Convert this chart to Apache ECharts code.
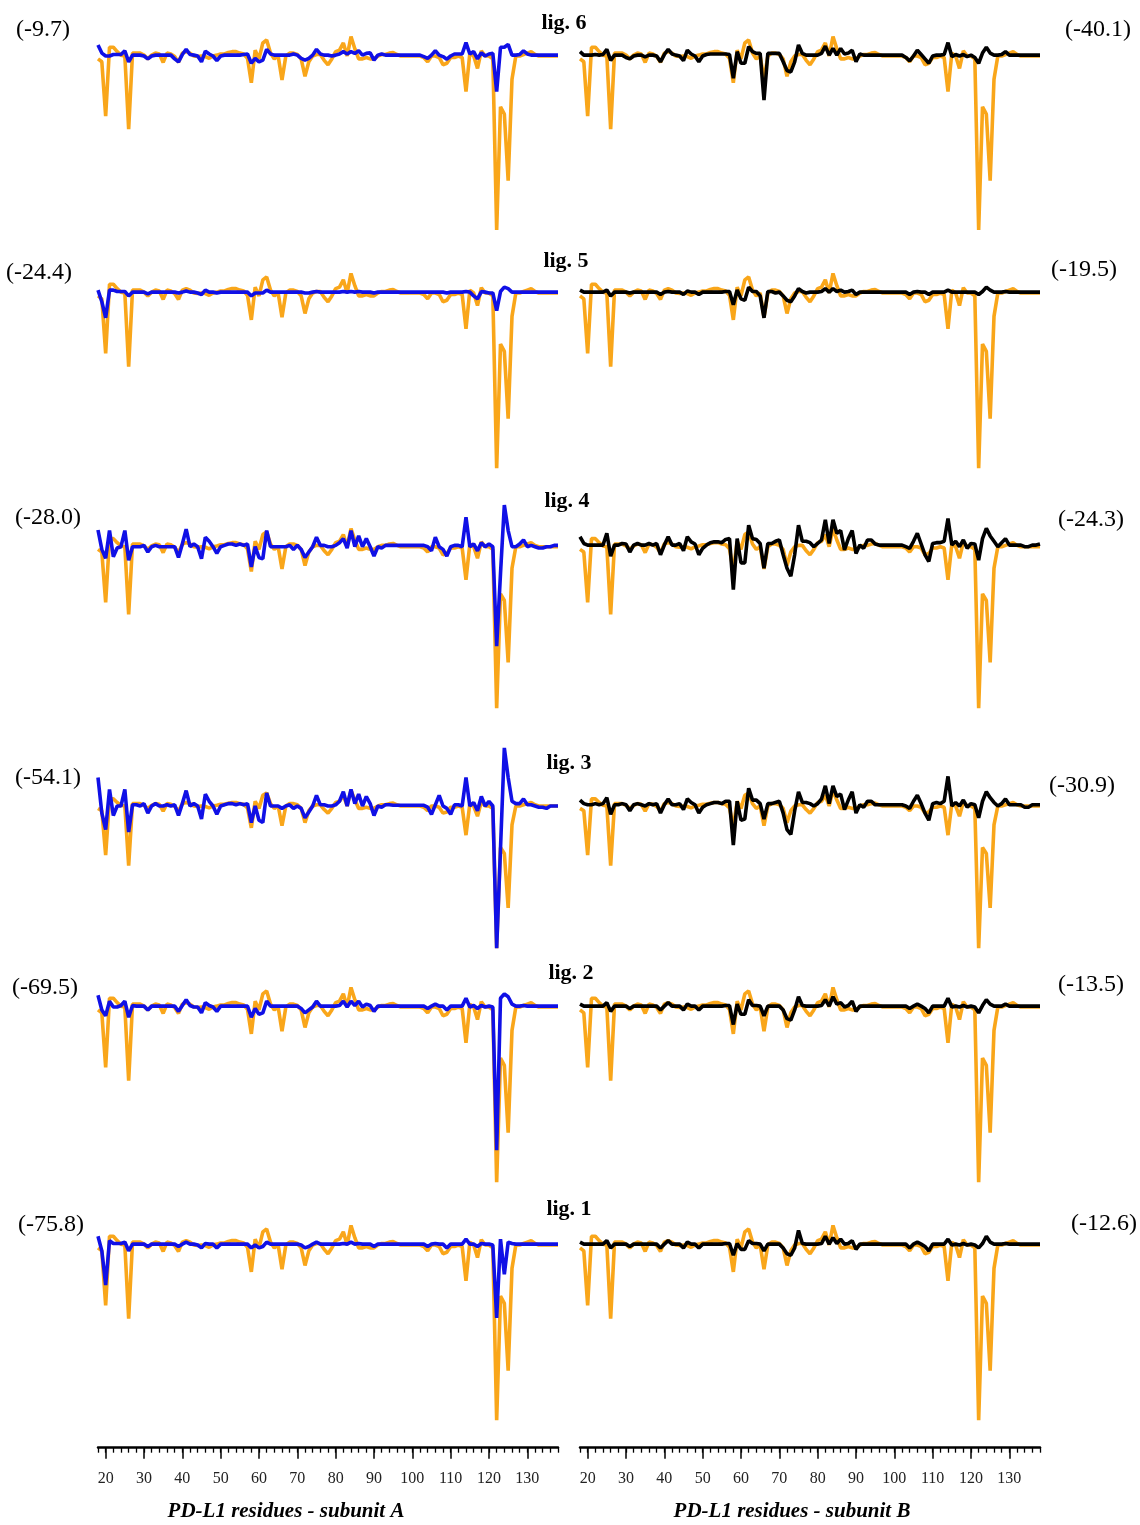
<!DOCTYPE html>
<html>
<head>
<meta charset="utf-8">
<script src="https://cdn.jsdelivr.net/npm/echarts@6/dist/echarts.min.js"></script>
<style>
html,body{margin:0;padding:0;background:#fff;}
#chart{width:1140px;height:1525px;}
</style>
</head>
<body>
<div id="chart"></div>
<script>
// Residue numbers (x categories)
const residues = [];
for (let r = 18; r <= 138; r++) residues.push(String(r));
const tickLabels = ['20','30','40','50','60','70','80','90','100','110','120','130'];

// Reference profile (orange), residues 18..138
const reference = [
-0.1,-0.2,-2.07,0.3,0.3,0.15,0.03,0,-2.52,0.1,
0.1,0.1,0.03,-0.1,0.03,0.1,0.07,-0.22,0.1,0.07,
-0.02,-0.22,0.1,0.15,0.1,0,-0.02,0,-0.02,-0.08,
0,0.03,0.07,0.07,0.12,0.15,0.15,0.1,0.07,-0.08,
-0.92,0.2,-0.1,0.45,0.55,0.1,-0.1,0,-0.83,0,
0.1,0.1,0.05,-0.1,-0.7,-0.2,0,0.05,0.05,-0.15,
-0.3,-0.1,0.15,0.2,0.45,0,0.67,0.25,-0.1,-0.1,
-0.05,-0.1,-0.1,0,0.05,0.05,0.1,0.12,0.05,0,
0,0,0,0,0,-0.05,-0.2,0,0,-0.05,
-0.3,-0.25,-0.05,-0.05,0,-0.05,-1.23,0.1,0,-0.43,
0.18,0,0,-0.1,-6,-1.75,-2,-4.3,-0.8,0,
0,0.05,0.1,0.15,0.05,0,0,0,0,0,
0];

// Ligand profiles, subunit A (blue) and subunit B (black)
const lig6A = [
0.38,0.1,0,0,0.05,0.05,0.05,0.18,-0.2,0.03,
0.03,0.03,0,-0.1,0,0.03,0.03,0.03,0.03,0.03,
-0.1,-0.2,0.05,0.23,0.05,0.03,0,-0.2,0.17,0.07,
0,-0.16,0,0.03,0.03,0.03,0.03,0.03,0.05,0.07,
-0.25,-0.08,-0.2,-0.14,0.23,0.07,0.03,0.03,0.03,0.03,
0.03,0.07,0.03,-0.08,-0.14,-0.08,0.03,0.23,0.07,0.03,
0.03,0,0.03,0.07,0.15,0.07,0.15,0.09,0.18,0.03,
0.09,0.11,-0.14,0.03,0.07,0.03,0.03,0.03,0.03,0.03,
0.03,0.03,0.03,0.03,0.03,-0.02,-0.08,0.03,0.18,0.03,
-0.02,-0.11,0,0.07,0.07,0.07,0.46,0.07,0.15,-0.1,
0.11,0,0.07,0.09,-1.23,0.3,0.3,0.4,0.03,0.03,
0.05,0.18,0.07,0.03,0.03,0.03,0.03,0.03,0.03,0.03,
0.03];
const lig6B = [
0.15,0.03,0.03,0.03,0.05,0.03,0.05,0.23,-0.15,0.03,
0.03,0.03,-0.05,-0.1,0,0.03,0.03,-0.03,0.03,0.03,
0,-0.2,0.05,0.23,0.07,0.03,0,-0.16,0.2,0.07,
0,-0.2,0,0.05,0.07,0.07,0.07,0.07,0.07,0.05,
-0.77,0.15,-0.25,-0.25,0.32,0.15,0.09,0.09,-1.52,0.09,
0.09,0.09,0.09,-0.2,-0.5,-0.55,-0.2,0.38,0.09,0.03,
0.03,0.03,0.03,0.09,0.34,0.03,0.26,0.03,0.26,0.07,
0.1,0.2,-0.2,0.07,0.03,0.03,0.03,0.03,0.03,0.03,
0.03,0.03,0.03,0.03,0.03,-0.05,-0.17,0,0.2,0.05,
-0.1,-0.25,0,0.03,0.03,0.05,0.46,-0.02,0.05,0,
0.05,-0.02,0.03,-0.05,-0.25,0.1,0.3,0.1,0.03,0.03,
0.05,0.15,0.03,0.03,0.03,0.03,0.03,0.03,0.03,0.03,
0.03];
const lig5A = [
0.1,-0.3,-0.85,0.1,0.1,0.05,0.05,0.05,-0.1,0.03,
0.03,0.03,0.03,-0.03,0.03,0.03,0.03,0.03,0.03,0.03,
0.03,0,0.03,0.07,0.03,0.03,0,-0.05,0.1,0.03,
0.03,0,0.03,0.03,0.03,0.03,0.03,0.03,0.03,0.03,
-0.1,0,0,0,0.1,0.03,0.03,0.03,0.03,0.03,
0.03,0.03,0.03,0.03,0,0,0.03,0.05,0.03,0.03,
0.03,0.03,0.03,0.03,0.05,0.03,0.05,0.03,0.05,0.03,
0.03,0.03,0,0.03,0.03,0.03,0.03,0.03,0.03,0.03,
0.03,0.03,0.03,0.03,0.03,0.03,0.03,0.03,0.03,0.03,
0.03,0,0.03,0.03,0.03,0.03,0.05,0.03,-0.1,-0.2,
0.05,0.03,0,0,-0.6,0.05,0.2,0.15,0.03,0.03,
0.03,0.03,0.03,0.03,0.03,0.03,0.03,0.03,0.03,0.03,
0.03];
const lig5B = [
0.1,0.03,0.03,0.03,0.03,0.03,0.03,0.1,-0.1,0.03,
0.03,0.03,0.03,0,0.03,0.03,0.03,0.03,0.03,0.03,
0.03,-0.05,0.03,0.05,0.03,0.03,0.03,-0.05,0.07,0.03,
0.03,-0.05,0.03,0.03,0.03,0.03,0.03,0.03,0.05,0.05,
-0.4,0.1,-0.2,-0.25,0.2,0.05,0.05,-0.1,-0.85,0.05,
0.05,0,0.03,-0.1,-0.25,-0.3,-0.1,0.15,0.05,0,
0.03,0.03,0.03,0.05,0.15,0.03,0.15,0.05,0.1,0.03,
0.05,0.1,-0.05,0.03,0.03,0.03,0.03,0.03,0.03,0.03,
0.03,0.03,0.03,0.03,0.03,0.03,-0.05,0.03,0.05,0.03,
0.03,-0.05,0.03,0.03,0.03,0.03,0.1,0.03,0.03,0.03,
0.03,0.03,0.03,0.03,-0.05,0.05,0.2,0.1,0.03,0.03,
0.03,0.05,0.03,0.03,0.03,0.03,0.03,0.03,0.03,0.03,
0.03];
const lig4A = [
0.62,-0.1,-0.43,0.6,-0.37,-0.05,0,0.6,-0.5,0,
0,0,0.05,-0.2,0,0.05,0,0,0,0,
0,-0.4,0.1,0.65,0,0.1,0,-0.45,0.35,0.2,
0,-0.25,0,0.05,0.1,0.1,0.05,0.1,0.05,0.1,
-0.75,0,-0.4,-0.45,0.6,0,0,0,0,0,
0.05,-0.1,0.05,-0.1,-0.4,-0.2,0,0.35,0.05,0.05,
0,0,0.05,0.15,0.3,-0.05,0.6,0,0.4,0,
0.3,0,-0.35,0,-0.05,0.05,0.05,0.05,0.05,0.05,
0.05,0.05,0.05,0.05,0.05,0.05,0,-0.15,0.35,0,
-0.1,-0.35,0,0.05,0.05,0,1.1,0,0.1,-0.15,
0.15,0,0.1,0,-3.7,-1.0,1.55,0.6,0,0,
0.1,0.25,0,0.05,0,-0.05,-0.05,0,0,0.05,
0.05];
const lig4B = [
0.37,0.12,0.06,0.06,0.06,0.06,0.06,0.5,-0.35,0.06,
0.06,0.12,0.1,-0.2,0.06,0.12,0.06,0.06,0.12,0.06,
0.12,-0.3,0.06,0.37,0.06,0.06,0.12,-0.15,0.37,0.18,
0.1,-0.3,-0.06,0.06,0.15,0.18,0.18,0.15,0.27,0.3,
-1.6,0.3,-0.6,-0.6,0.8,0.3,0.27,0.12,-0.8,0.12,
0.12,0.2,0.25,-0.3,-0.8,-1.1,-0.3,0.8,0.2,0.2,
0.15,0,0.12,0.25,1.0,0.12,1.0,0.5,0.6,-0.12,
0.3,0.6,-0.25,0.06,-0.06,0.25,0.25,0.1,0.06,0.06,
0.06,0.06,0.06,0.06,0.06,0,-0.06,0.2,0.5,0.1,
-0.3,-0.55,0.12,0.15,0.15,0.2,1.05,0.06,0.2,0,
0.25,-0.06,0.12,0.1,-0.5,0.3,0.68,0.4,0.2,0,
0.15,0.3,0.06,0.06,0.06,0.06,0,0,0.06,0.06,
0.1];
const lig3A = [
1.2,-0.3,-1.0,0.7,-0.4,0,0,0.7,-1.1,0.05,
0.05,0,0.1,-0.3,0,0.1,0,0,0.05,0,
0.05,-0.4,0.1,0.65,0,0.1,0,-0.55,0.5,0.2,
0,-0.35,0,0.05,0.1,0.1,0.05,0.1,0.05,0.1,
-0.7,0,-0.6,-0.7,0.55,0,0,0,-0.1,0,
0.05,-0.1,0,-0.1,-0.5,-0.25,0,0.45,0.05,0.05,
0,0,0.05,0.2,0.6,0,0.7,0.1,0.5,0,
0.4,0.1,-0.4,0,-0.05,0.05,0.05,0.03,0.03,0.03,
0.03,0.03,0.03,0.03,0.03,0.03,-0.05,-0.35,0.05,0.45,
0,-0.1,-0.35,0.05,0.05,0,1.2,0,0.15,-0.2,
0.4,0,0.2,0,-6,-1.8,2.45,1.2,0.2,0.1,
0.1,0.3,0.05,0.05,0,-0.05,-0.05,-0.1,0,0,
0];
const lig3B = [
0.25,0.1,0.05,0.05,0.1,0.05,0.1,0.35,-0.35,0.05,
0.05,0.1,0.05,-0.2,0.05,0.1,0.05,0,0.1,0.05,
0.1,-0.3,0.05,0.3,0.05,0.05,0.1,-0.15,0.3,0.15,
0.05,-0.3,-0.05,0.05,0.1,0.15,0.15,0.1,0.2,0.2,
-1.65,0.2,-0.6,-0.55,0.75,0.25,0.25,0.1,-0.55,0.1,
0.1,0.15,0.2,-0.3,-1.0,-1.2,-0.2,0.6,0.15,0.15,
0.1,0,0.1,0.3,0.85,0.1,0.85,0.4,0.5,-0.15,
0.25,0.6,-0.3,0.05,-0.05,0.2,0.2,0.05,0.05,0.05,
0.05,0.05,0.05,0.05,0.05,0,-0.1,0.2,0.45,0.1,
-0.3,-0.6,0.1,0.15,0.1,0.2,1.25,0,0.15,0,
0.25,-0.05,0.1,0.05,-0.5,0.2,0.6,0.35,0.15,0,
0.1,0.3,0.05,0.05,0.05,0.05,-0.05,-0.05,0.05,0.05,
0.05];
const lig2A = [
0.4,-0.1,-0.3,0.2,0,0,0.05,0.2,-0.35,0.05,
0.03,0.03,0.03,-0.1,0.03,0.03,0.03,0.03,0.03,0.03,
0.03,-0.15,0.05,0.25,0.05,0,0,-0.2,0.15,0.05,
0,-0.15,0.03,0.03,0.03,0.03,0.03,0.03,0.03,0.03,
-0.35,-0.05,-0.25,-0.2,0.2,0.03,0.03,0.03,0.03,0.03,
0.03,0.03,0.03,-0.05,-0.2,-0.1,0,0.2,0.03,0.03,
0.03,0.03,0.03,0.05,0.2,0,0.2,0.05,0.2,0,
0.1,0.05,-0.15,0.03,0.03,0.03,0.03,0.03,0.03,0.03,
0.03,0.03,0.03,0.03,0.03,0.03,-0.05,0.03,0.1,0.03,
0.03,-0.1,0.03,0.03,0.03,0.03,0.3,0,0.05,-0.05,
0.05,0,0.03,0,-4.9,0.3,0.45,0.35,0.1,0.03,
0.03,0.05,0.03,0.03,0.03,0.03,0.03,0.03,0.03,0.03,
0.03];
const lig2B = [
0.1,0.03,0.03,0.03,0.03,0.03,0.03,0.15,-0.15,0.03,
0.03,0.03,0.03,-0.05,0.03,0.03,0.03,0.03,0.03,0.03,
0.03,-0.1,0.03,0.15,0.03,0.03,0.03,-0.1,0.1,0.03,
0.03,-0.1,0.03,0.03,0.03,0.03,0.03,0.03,0.05,0.05,
-0.6,0.1,-0.25,-0.25,0.25,0.05,0.05,0.03,-0.3,0.03,
0.03,0.03,0.03,-0.1,-0.4,-0.45,-0.1,0.35,0.05,0.03,
0.03,0.03,0.03,0.05,0.25,0.03,0.35,0.1,0.15,0,
0.05,0.2,-0.15,0.03,0.03,0.03,0.03,0.03,0.03,0.03,
0.03,0.03,0.03,0.03,0.03,0.03,-0.05,0.03,0.1,0.03,
-0.05,-0.2,0.03,0.03,0.03,0.03,0.3,0,0.03,0,
0.05,0,0.03,0,-0.2,0.05,0.25,0.1,0.03,0.03,
0.03,0.1,0.03,0.03,0.03,0.03,0.03,0.03,0.03,0.03,
0.03];
const lig1A = [
0.3,-0.2,-1.37,0.15,0.05,0.05,0.05,0.1,-0.2,0.03,
0.03,0.03,0.03,-0.05,0.03,0.03,0.03,0.03,0.03,0.03,
0.03,-0.05,0.03,0.1,0.03,0.03,0,-0.1,0.05,0.03,
0.03,-0.1,0.03,0.03,0.03,0.03,0.03,0.03,0.03,0.03,
-0.1,0,-0.1,-0.05,0.1,0.03,0.03,0.03,0.03,0.03,
0.03,0.03,0.03,0,-0.1,-0.05,0.03,0.1,0.03,0.03,
0.03,0.03,0.03,0.03,0.05,0.03,0.1,0.03,0.05,0.03,
0.03,0.03,-0.05,0.03,0.03,0.03,0.03,0.03,0.03,0.03,
0.03,0.03,0.03,0.03,0.03,0.03,-0.05,0.03,0.05,0.03,
0.03,-0.1,0.03,0.03,0.03,0.03,0.2,0.03,0.03,-0.05,
0.05,0.03,0.03,0,-2.5,0.2,-1.0,0.1,0.05,0.03,
0.03,0.03,0.03,0.03,0.03,0.03,0.03,0.03,0.03,0.03,
0.03];
const lig1B = [
0.1,0.03,0.03,0.03,0.03,0.03,0.03,0.15,-0.1,0.03,
0.03,0.03,0.03,-0.05,0.03,0.03,0.03,0.03,0.03,0.03,
0.03,-0.1,0.03,0.15,0.03,0.03,0.03,-0.1,0.1,0.03,
0.03,-0.1,0.03,0.03,0.03,0.03,0.03,0.03,0.05,0.05,
-0.35,0.05,-0.15,-0.15,0.15,0.05,0.05,0.03,-0.2,0.03,
0.03,0.03,0.03,-0.1,-0.3,-0.35,-0.1,0.5,0.05,0.03,
0.03,0.03,0.03,0.05,0.3,0.03,0.25,0.05,0.2,0.03,
0.05,0.15,-0.15,0.03,0.03,0.03,0.03,0.03,0.03,0.03,
0.03,0.03,0.03,0.03,0.03,0.03,-0.1,0.03,0.1,0.03,
-0.05,-0.2,0.03,0.03,0.03,0.03,0.2,0,0.03,0,
0.05,0,0.03,0,-0.1,0.05,0.3,0.1,0.03,0.03,
0.03,0.05,0.03,0.03,0.03,0.03,0.03,0.03,0.03,0.03,
0.03];

const ligandNames = ['lig. 6','lig. 5','lig. 4','lig. 3','lig. 2','lig. 1'];
const energiesA = ['(-9.7)','(-24.4)','(-28.0)','(-54.1)','(-69.5)','(-75.8)'];
const energiesB = ['(-40.1)','(-19.5)','(-24.3)','(-30.9)','(-13.5)','(-12.6)'];
const seriesA = [lig6A, lig5A, lig4A, lig3A, lig2A, lig1A];
const seriesB = [lig6B, lig5B, lig4B, lig3B, lig2B, lig1B];

// ----- layout (pixels) -----
const rowLayout = [
  {z: 56,    s: 29.0, yMax: 1, nameX: 564, nameY: 23,  eAx: 43,  eAy: 30,  eBx: 1098, eBy: 30},
  {z: 293,   s: 29.2, yMax: 1, nameX: 566, nameY: 261, eAx: 39,  eAy: 273, eBx: 1084, eBy: 270},
  {z: 546.7, s: 26.9, yMax: 2, nameX: 567, nameY: 501, eAx: 48,  eAy: 518, eBx: 1091, eBy: 520},
  {z: 806,   s: 23.7, yMax: 3, nameX: 569, nameY: 763, eAx: 48,  eAy: 778, eBx: 1082, eBy: 786},
  {z: 1007,  s: 29.2, yMax: 1, nameX: 571, nameY: 973, eAx: 45,  eAy: 988, eBx: 1091, eBy: 985},
  {z: 1245,  s: 29.2, yMax: 1, nameX: 569, nameY: 1209,eAx: 51,  eAy: 1225,eBx: 1104, eBy: 1224}
];
const colLeft = [98, 580];
const colWidth = 460;
const YMIN = -6;
const ORANGE = '#F9A61A', BLUE = '#1010E6', BLACK = '#000000';
const SERIF = '"Liberation Serif","DejaVu Serif",serif';

const grid = [], xAxis = [], yAxis = [], series = [], graphic = [];
rowLayout.forEach((L, row) => {
  [0, 1].forEach(col => {
    const gi = grid.length;
    const top = L.z - L.yMax * L.s;
    const height = (L.yMax - YMIN) * L.s;
    grid.push({left: colLeft[col], top: top, width: colWidth, height: height});
    const last = row === rowLayout.length - 1;
    const xi = xAxis.length;
    xAxis.push({
      type: 'category', gridIndex: gi, data: residues, boundaryGap: false,
      show: last, position: 'bottom', offset: 27.5,
      axisLine: {show: true, onZero: false, lineStyle: {color: '#000', width: 2.5}},
      axisTick: {show: true, length: 5, lineStyle: {color: '#000', width: 1.3},
        interval: (i, v) => (+v) % 2 === 0},
      axisLabel: {show: false},
      splitLine: {show: false}
    });
    if (last) {
      xAxis.push({
        type: 'category', gridIndex: gi, data: residues, boundaryGap: false,
        position: 'bottom', offset: 27.5,
        axisLine: {show: false, onZero: false},
        axisTick: {show: true, length: 11, lineStyle: {color: '#000', width: 1.5},
          interval: (i, v) => tickLabels.indexOf(v) >= 0},
        axisLabel: {show: true, interval: (i, v) => tickLabels.indexOf(v) >= 0,
          margin: 23, fontFamily: SERIF, fontSize: 16, color: '#222'},
        splitLine: {show: false}
      });
    }
    yAxis.push({type: 'value', gridIndex: gi, min: YMIN, max: L.yMax, show: false, splitLine: {show: false}});
    series.push({
      type: 'line', xAxisIndex: xi, yAxisIndex: gi, data: reference,
      symbol: 'none', clip: false, z: 2,
      lineStyle: {color: ORANGE, width: 3.6}
    });
    series.push({
      type: 'line', xAxisIndex: xi, yAxisIndex: gi, data: (col === 0 ? seriesA : seriesB)[row],
      symbol: 'none', clip: false, z: 3,
      lineStyle: {color: col === 0 ? BLUE : BLACK, width: 3.6}
    });
  });
  graphic.push({type: 'text', x: L.nameX, y: L.nameY, style: {text: ligandNames[row],
    font: 'bold 22px ' + SERIF, fill: '#000', textAlign: 'center', textVerticalAlign: 'middle'}});
  graphic.push({type: 'text', x: L.eAx, y: L.eAy, style: {text: energiesA[row],
    font: '24px ' + SERIF, fill: '#000', textAlign: 'center', textVerticalAlign: 'middle'}});
  graphic.push({type: 'text', x: L.eBx, y: L.eBy, style: {text: energiesB[row],
    font: '24px ' + SERIF, fill: '#000', textAlign: 'center', textVerticalAlign: 'middle'}});
});
graphic.push({type: 'text', x: 286, y: 1512, style: {text: 'PD-L1 residues - subunit A',
  font: 'italic bold 21px ' + SERIF, fill: '#000', textAlign: 'center', textVerticalAlign: 'middle'}});
graphic.push({type: 'text', x: 792, y: 1512, style: {text: 'PD-L1 residues - subunit B',
  font: 'italic bold 21px ' + SERIF, fill: '#000', textAlign: 'center', textVerticalAlign: 'middle'}});

const chart = echarts.init(document.getElementById('chart'), null, {renderer: 'canvas'});
chart.setOption({
  animation: false,
  backgroundColor: '#fff',
  grid, xAxis, yAxis, series, graphic
});
</script>
</body>
</html>
